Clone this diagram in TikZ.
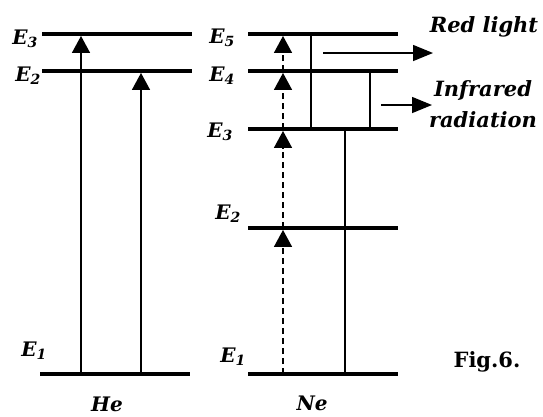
\documentclass[tikz,border=0pt]{standalone}
\usepackage{fontspec}
\setmainfont{DejaVu Serif}
\usetikzlibrary{arrows.meta,positioning}

\begin{document}
\begin{tikzpicture}[x=1pt,y=-1pt,
  font=\fontsize{21}{31}\selectfont\bfseries\itshape,
  level/.style={fill=black,inner sep=0pt,minimum width=150pt,minimum height=3.5pt},
  trans/.style={line width=1.5pt,-{Triangle[length=17pt,width=18pt]}},
  pump/.style={trans,dash pattern=on 6pt off 4pt},
  emit/.style={line width=1.5pt,-{Triangle[length=20pt,width=16pt]}},
  lbl/.style={inner sep=0pt,font=\fontsize{20}{22}\selectfont\bfseries\itshape}]
  \useasboundingbox (0,0) rectangle (543,416);

  % He levels
  \node[level] (hE3) at (117,34) {};
  \node[level] (hE2) at (117,71) {};
  \node[level] (hE1) at (115,374) {};
  % Ne levels
  \node[level] (nE5) at (323,34) {};
  \node[level] (nE4) at (323,71) {};
  \node[level] (nE3) at (323,129) {};
  \node[level] (nE2) at (323,228) {};
  \node[level] (nE1) at (323,374) {};

  % level labels
  \node[lbl] at (25,39) {E\textsubscript{3}};
  \node[lbl] at (28,76) {E\textsubscript{2}};
  \node[lbl] at (34,351) {E\textsubscript{1}};
  \node[lbl] at (222,38) {E\textsubscript{5}};
  \node[lbl] at (222,76) {E\textsubscript{4}};
  \node[lbl] at (220,132) {E\textsubscript{3}};
  \node[lbl] at (228,214) {E\textsubscript{2}};
  \node[lbl] at (233,357) {E\textsubscript{1}};
  \node[lbl] (he) at (107,404) {He};
  \node[lbl] (ne) at (312,403) {Ne};

  % columns of the transitions
  \coordinate (xa) at (81,0);
  \coordinate (xb) at (141,0);
  \coordinate (xd) at (283,0);
  \coordinate (xr) at (311,0);
  \coordinate (xi) at (370,0);
  \coordinate (xl) at (345,0);

  % He excitation
  \draw[trans] (hE1 -| xa) -- (hE3.south -| xa);
  \draw[trans] (hE1 -| xb) -- (hE2.south -| xb);
  % Ne pumping
  \foreach \a/\b in {nE1/nE2,nE2/nE3,nE3/nE4,nE4/nE5}
    \draw[pump] (\a -| xd) -- (\b.south -| xd);
  % Ne transitions
  \draw[line width=1.5pt] (nE5 -| xr) -- (nE3 -| xr);
  \draw[line width=1.5pt] (nE4 -| xi) -- (nE3 -| xi);
  \draw[line width=1.5pt] (nE3 -| xl) -- (nE1 -| xl);

  % emitted light
  \coordinate (rs) at (323,53);
  \coordinate (re) at (433,53);
  \coordinate (is) at (381,105);
  \coordinate (ie) at (432,105);
  \draw[emit] (rs) -- (re);
  \draw[emit] (is) -- (ie);
  \node (red) at (484,27) {Red light};
  \node[align=center] (ir) at (483,104) {Infrared\\radiation};
  \node[font=\fontsize{21}{24}\selectfont\bfseries] (fig) at (487,362) {Fig.6.};
\end{tikzpicture}
\end{document}
